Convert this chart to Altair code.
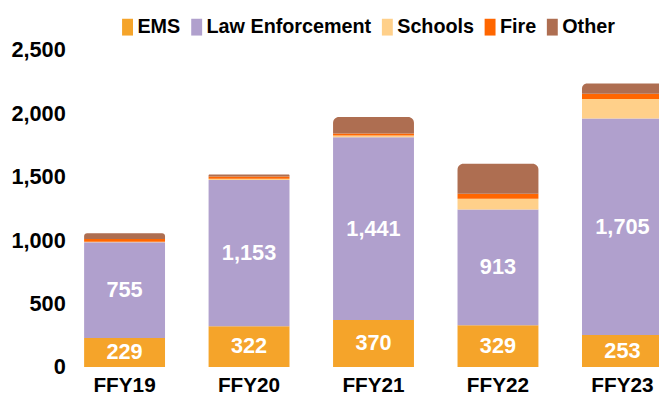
import altair as alt
import pandas as pd

years = ["FFY19", "FFY20", "FFY21", "FFY22", "FFY23"]
categories = ["EMS", "Law Enforcement", "Schools", "Fire", "Other"]
ems = [229, 322, 370, 329, 253]
law = [755, 1153, 1441, 913, 1705]
schools = [3, 8, 14, 84, 155]
fire = [22, 19, 16, 39, 42]
other = [46, 16, 129, 237, 80]
colors = ["#F5A42A", "#B0A0CD", "#FFD08A", "#FF6600", "#AE6E51"]
y_ticks = [0, 500, 1000, 1500, 2000, 2500]

series = [ems, law, schools, fire, other]
rows = []
for i, yr in enumerate(years):
    for j, cat in enumerate(categories):
        rows.append({"Year": yr, "Category": cat, "Value": series[j][i], "Order": j})
df = pd.DataFrame(rows)

FONT = "Liberation Sans"

base = alt.Chart(df).transform_stack(
    stack="Value",
    groupby=["Year"],
    as_=["y0", "y1"],
    sort=[alt.SortField("Order", order="ascending")],
)

xenc = alt.X(
    "Year:N",
    sort=years,
    scale=alt.Scale(range=[-9, 621], paddingInner=0.35, paddingOuter=0.175),
    axis=alt.Axis(
        title=None, domain=False, ticks=False, labelAngle=0,
        labelFont=FONT, labelFontSize=21, labelFontWeight="bold",
        labelColor="black", labelPadding=8,
    ),
)
yaxis = alt.Axis(
    title=None, values=y_ticks, format=",d", domain=False, ticks=False,
    grid=False, labelFont=FONT, labelFontSize=22, labelFontWeight="bold",
    labelColor="black", labelPadding=6,
)
yscale = alt.Scale(domain=[0, 2500], nice=False)
yenc = alt.Y("y0:Q", scale=yscale, axis=yaxis)
color = alt.Color(
    "Category:N",
    scale=alt.Scale(domain=categories, range=colors),
    legend=alt.Legend(
        title=None, orient="none", legendX=47, legendY=-33,
        direction="horizontal", columns=5,
        symbolType="M-0.65,-1H0.65V1H-0.65Z", symbolSize=289,
        symbolStrokeWidth=0, symbolOpacity=1,
        labelOffset=0, columnPadding=6, padding=0, labelLimit=400,
        labelFont=FONT, labelFontSize=20, labelFontWeight="bold",
        labelColor="black",
    ),
)

bars = base.transform_filter("datum.Category != 'Other'").mark_bar().encode(
    x=xenc, y=yenc, y2="y1:Q", color=color
)
tops = base.transform_filter("datum.Category == 'Other'").mark_bar(
    cornerRadiusTopLeft=6, cornerRadiusTopRight=6
).encode(x=xenc, y=yenc, y2="y1:Q", color=color)

labels = base.transform_filter(
    "datum.Category == 'EMS' || datum.Category == 'Law Enforcement'"
).transform_calculate(mid="(datum.y0 + datum.y1) / 2").mark_text(
    color="white", font=FONT, fontSize=22, fontWeight="bold", baseline="middle"
).encode(
    x=xenc,
    y=alt.Y("mid:Q", scale=yscale, axis=yaxis),
    text=alt.Text("Value:Q", format=","),
)

chart = alt.layer(bars, tops, labels).properties(
    width=595,
    height=321,
    autosize=alt.AutoSizeParams(type="none"),
    padding={"left": 64, "top": 40, "right": 0, "bottom": 28},
).configure_view(stroke=None)

chart.save("out.html", embed_options={"renderer": "svg", "actions": False})
